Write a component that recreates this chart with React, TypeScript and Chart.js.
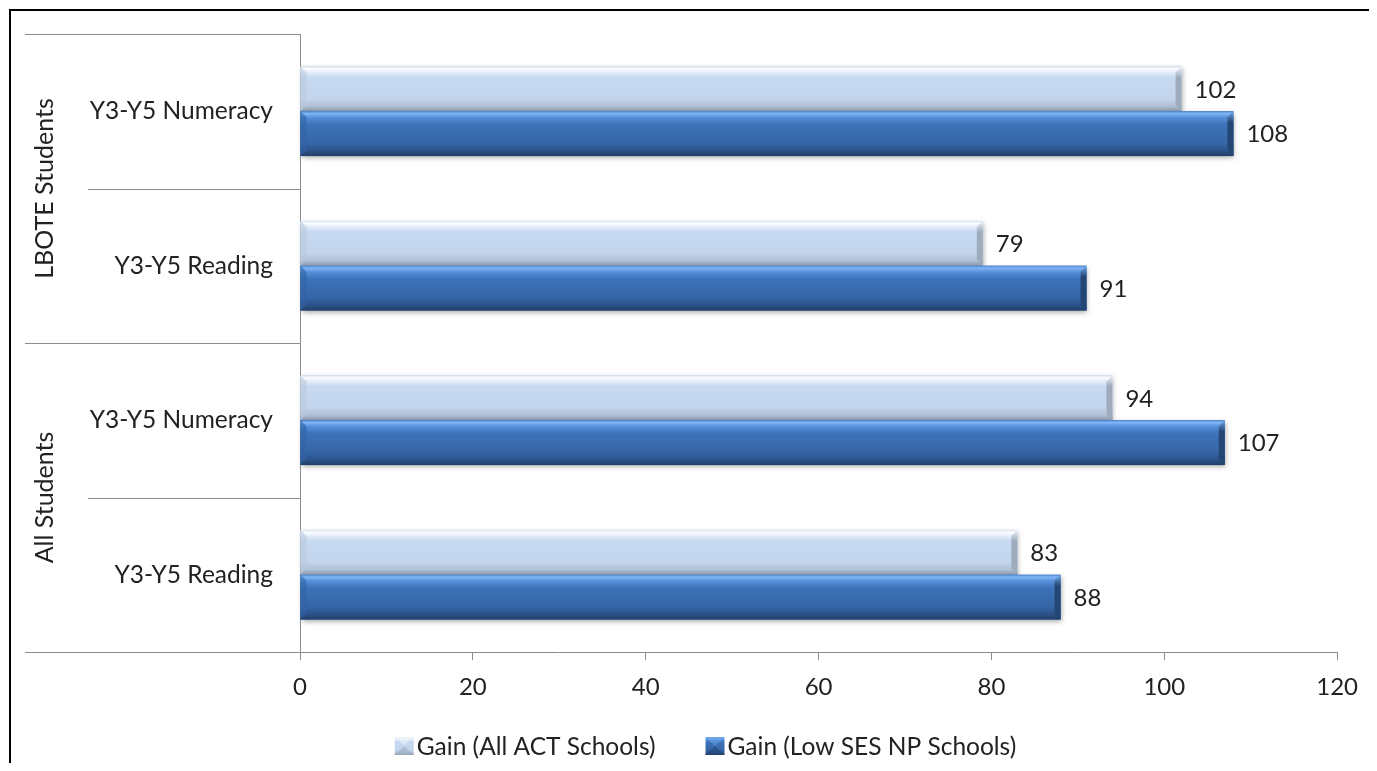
import { useEffect, useRef } from "react";
import { Chart, registerables } from "chart.js";

Chart.register(...registerables);

// ---- data ----
const categories = ["Y3-Y5 Numeracy", "Y3-Y5 Reading", "Y3-Y5 Numeracy", "Y3-Y5 Reading"];
const groups = ["LBOTE Students", "All Students"];
const groupSizes = [2, 2];
const seriesNames = ["Gain (All ACT Schools)", "Gain (Low SES NP Schools)"];
const allActGain = [102, 79, 94, 83];
const lowSesGain = [108, 91, 107, 88];
const xMin = 0;
const xMax = 120;
const xStep = 20;

// ---- styles ----
const FONT = "Lato";
const TEXT = "#222222";
const AXIS = "#8c8c8c";
const LEGEND_CENTER_X = 694.5;
const LEGEND_CENTER_Y = 735;

type Pal = {
  main: string;
  stops: [number, string][];
  leftEnd: string;
  rightTop: string;
  rightBottom: string;
};

const lightPal: Pal = {
  main: "#c6d9f1",
  stops: [
    [0, "#d6e1ee"],
    [0.05, "#fbfdff"],
    [0.13, "#e4edf8"],
    [0.24, "#c7daf1"],
    [0.72, "#c3d5ec"],
    [0.88, "#b1c1d6"],
    [1, "#8d9bae"],
  ],
  leftEnd: "#b9c9de",
  rightTop: "#eef3fa",
  rightBottom: "#9eabbd",
};

const darkPal: Pal = {
  main: "#3a6db1",
  stops: [
    [0, "#4f85cc"],
    [0.05, "#7fb5f6"],
    [0.15, "#548ed8"],
    [0.3, "#3d72b8"],
    [0.72, "#3565a6"],
    [0.88, "#2c528a"],
    [1, "#213e66"],
  ],
  leftEnd: "#3163a6",
  rightTop: "#6ea6ea",
  rightBottom: "#244674",
};

const palettes = [lightPal, darkPal];

function drawBar(ctx: CanvasRenderingContext2D, left: number, right: number, top: number, bottom: number, pal: Pal) {
  const w = right - left;
  const h = bottom - top;
  ctx.save();
  ctx.shadowColor = "rgba(0,0,0,0.35)";
  ctx.shadowBlur = 5;
  ctx.shadowOffsetX = 1;
  ctx.shadowOffsetY = 2;
  ctx.fillStyle = pal.main;
  ctx.fillRect(left, top, w, h);
  ctx.restore();

  const g = ctx.createLinearGradient(0, top, 0, bottom);
  pal.stops.forEach(([o, c]) => g.addColorStop(o, c));
  ctx.fillStyle = g;
  ctx.fillRect(left, top, w, h);

  const b = Math.min(6, w / 2, h / 2);
  ctx.beginPath();
  ctx.moveTo(left, top);
  ctx.lineTo(left + b, top + b);
  ctx.lineTo(left + b, bottom - b);
  ctx.lineTo(left, bottom);
  ctx.closePath();
  ctx.fillStyle = pal.leftEnd;
  ctx.globalAlpha = 0.6;
  ctx.fill();
  ctx.globalAlpha = 1;

  ctx.beginPath();
  ctx.moveTo(right, top);
  ctx.lineTo(right - b, top + b);
  ctx.lineTo(right - b, bottom - b);
  ctx.lineTo(right, bottom);
  ctx.closePath();
  const gr = ctx.createLinearGradient(0, top, 0, bottom);
  gr.addColorStop(0, pal.rightTop);
  gr.addColorStop(0.25, pal.rightBottom);
  gr.addColorStop(1, pal.rightBottom);
  ctx.fillStyle = gr;
  ctx.fill();
}

function drawIcon(x: CanvasRenderingContext2D, l: number, t: number, pal: Pal) {
  const W = 19;
  const H = 18;
  const g = x.createLinearGradient(0, t, 0, t + H);
  pal.stops.forEach(([o, col]) => g.addColorStop(o, col));
  x.save();
  x.fillStyle = g;
  x.fillRect(l, t, W, H);
  x.fillStyle = pal.rightBottom;
  x.globalAlpha = 0.55;
  x.beginPath();
  x.moveTo(l, t + H);
  x.lineTo(l + W / 2, t + H / 2);
  x.lineTo(l + W, t + H);
  x.closePath();
  x.fill();
  x.fillStyle = pal.rightTop;
  x.globalAlpha = 0.5;
  x.beginPath();
  x.moveTo(l, t);
  x.lineTo(l + W / 2, t + H / 2);
  x.lineTo(l + W, t);
  x.closePath();
  x.fill();
  x.restore();
}

const barStylePlugin = {
  id: "barStyle",
  afterDatasetsDraw(chart: any) {
    const ctx: CanvasRenderingContext2D = chart.ctx;
    chart.data.datasets.forEach((ds: any, di: number) => {
      const meta = chart.getDatasetMeta(di);
      meta.data.forEach((el: any, i: number) => {
        const { x, y, base, height } = el.getProps(["x", "y", "base", "height"], true);
        const top = y - height / 2;
        const bottom = y + height / 2;
        drawBar(ctx, Math.min(base, x), Math.max(base, x), top, bottom, palettes[di]);
        ctx.save();
        ctx.fillStyle = TEXT;
        ctx.font = `24px ${FONT}`;
        ctx.textAlign = "left";
        ctx.textBaseline = "middle";
        ctx.fillText(String(ds.data[i]), Math.max(base, x) + 13, y + 1);
        ctx.restore();
      });
    });
  },
};

const groupAxisPlugin = {
  id: "groupAxis",
  afterDraw(chart: any) {
    const ctx: CanvasRenderingContext2D = chart.ctx;
    const yScale = chart.scales.y;
    const left = chart.chartArea.left;
    const groupBounds = new Set<number>();
    let acc = 0;
    groupBounds.add(0);
    groupSizes.forEach((s) => {
      acc += s;
      groupBounds.add(acc);
    });
    ctx.save();
    ctx.strokeStyle = AXIS;
    ctx.lineWidth = 1;
    for (let i = 0; i <= categories.length; i++) {
      const yy = Math.round(yScale.getPixelForValue(i - 0.5)) + 0.5;
      const x0 = groupBounds.has(i) ? 14 : 77;
      ctx.beginPath();
      ctx.moveTo(x0, yy);
      ctx.lineTo(left, yy);
      ctx.stroke();
    }
    ctx.fillStyle = TEXT;
    ctx.font = `25px ${FONT}`;
    ctx.textAlign = "center";
    ctx.textBaseline = "middle";
    let start = 0;
    groups.forEach((g, gi) => {
      const mid = start + groupSizes[gi] / 2 - 0.5;
      const yy = yScale.getPixelForValue(mid);
      ctx.save();
      ctx.translate(34, yy);
      ctx.rotate(-Math.PI / 2);
      ctx.fillText(g, 0, 0);
      ctx.restore();
      start += groupSizes[gi];
    });
    ctx.restore();
  },
};

const legendPlugin = {
  id: "customLegend",
  afterDraw(chart: any) {
    const ctx: CanvasRenderingContext2D = chart.ctx;
    const labels: string[] = chart.data.datasets.map((d: any) => d.label);
    ctx.save();
    ctx.font = `24.5px ${FONT}`;
    ctx.fillStyle = TEXT;
    ctx.textAlign = "left";
    ctx.textBaseline = "middle";
    const iconW = 19;
    const gapIconText = 3;
    const gapItems = 50;
    const widths = labels.map((t) => iconW + gapIconText + ctx.measureText(t).width);
    const total = widths.reduce((a, b) => a + b, 0) + gapItems * (labels.length - 1);
    let x = LEGEND_CENTER_X - total / 2;
    labels.forEach((t, i) => {
      drawIcon(ctx, x, LEGEND_CENTER_Y - 9, palettes[i]);
      ctx.fillStyle = TEXT;
      ctx.fillText(t, x + iconW + gapIconText, LEGEND_CENTER_Y + 1);
      x += widths[i] + gapItems;
    });
    ctx.restore();
  },
};

export default function App() {
  const ref = useRef<HTMLCanvasElement | null>(null);
  useEffect(() => {
    if (!ref.current) return;
    const chart = new Chart(ref.current, {
      type: "bar",
      data: {
        labels: categories,
        datasets: [
          {
            label: seriesNames[0],
            data: allActGain,
            backgroundColor: "rgba(0,0,0,0)",
            borderWidth: 0,
            categoryPercentage: 0.58,
            barPercentage: 1,
          },
          {
            label: seriesNames[1],
            data: lowSesGain,
            backgroundColor: "rgba(0,0,0,0)",
            borderWidth: 0,
            categoryPercentage: 0.58,
            barPercentage: 1,
          },
        ],
      },
      options: {
        indexAxis: "y",
        animation: false,
        responsive: true,
        maintainAspectRatio: false,
        layout: { padding: { left: 71, right: 33, top: 23, bottom: 52 } },
        scales: {
          x: {
            min: xMin,
            max: xMax,
            ticks: { stepSize: xStep, color: TEXT, font: { family: FONT, size: 24 }, padding: 13 },
            grid: { display: true, drawOnChartArea: false, drawTicks: true, tickLength: 8, color: AXIS },
            border: { display: true, color: AXIS },
            afterFit: (scale: any) => {
              scale.height = 60;
            },
          },
          y: {
            ticks: { color: TEXT, font: { family: FONT, size: 24.5 }, padding: 0 },
            grid: { display: true, drawOnChartArea: false, drawTicks: true, tickLength: 27, color: "rgba(0,0,0,0)" },
            border: { display: true, color: AXIS },
            afterFit: (scale: any) => {
              scale.width = 218;
            },
          },
        },
        plugins: {
          legend: { display: false },
          tooltip: { enabled: false },
        },
      },
      plugins: [barStylePlugin, groupAxisPlugin, legendPlugin],
    });
    return () => chart.destroy();
  }, []);

  return (
    <div
      style={{
        position: "relative",
        left: 1,
        top: 1,
        width: 1360,
        height: 753,
        borderTop: "2px solid #000",
        borderLeft: "2px solid #000",
        borderRight: "2px solid #000",
        background: "#fff",
      }}
    >
      <canvas ref={ref} />
    </div>
  );
}
